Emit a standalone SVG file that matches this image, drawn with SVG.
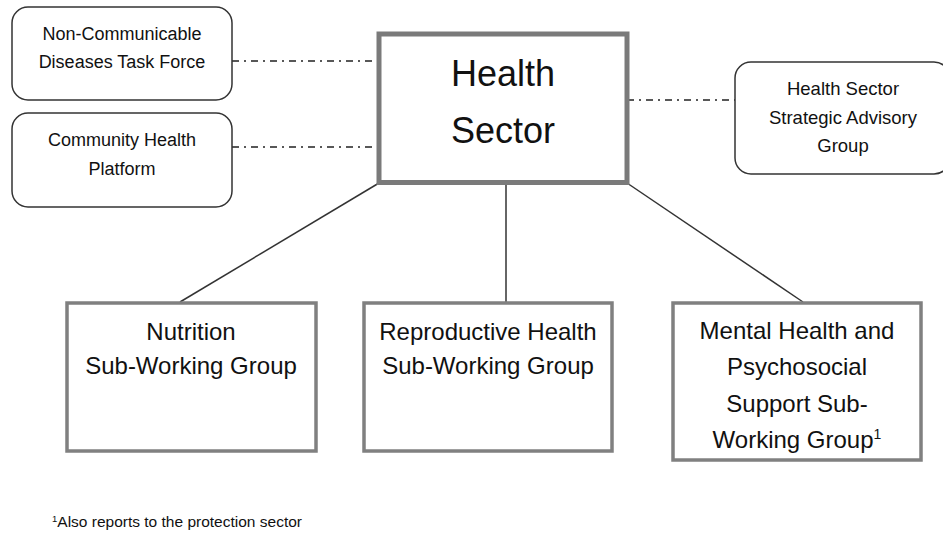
<svg xmlns="http://www.w3.org/2000/svg" width="943" height="533" viewBox="0 0 943 533">
<style>
text{font-family:"Liberation Sans",Arial,sans-serif;fill:#111;text-anchor:middle}
.rbox{fill:#fff;stroke:#333;stroke-width:1.5}
.sq{fill:#fff;stroke:#808080;stroke-width:3.5}
.main{fill:#fff;stroke:#7a7a7a;stroke-width:5}
.side{font-size:18px}
.sub{font-size:24px}
.dd{stroke:#222;stroke-width:1.6;fill:none;stroke-dasharray:7 5 2 5}
.ln{stroke:#333;stroke-width:1.5;fill:none}
</style>
<g id="connectors">
<line class="dd" x1="232" y1="61" x2="379" y2="61"/>
<line class="dd" x1="232" y1="147" x2="379" y2="147"/>
<line class="dd" x1="627" y1="100" x2="735" y2="100"/>
<line class="ln" x1="379" y1="183" x2="180" y2="302"/>
<line class="ln" x1="506" y1="183" x2="506" y2="302"/>
<line class="ln" x1="627" y1="183" x2="803" y2="302"/>
</g>
<g id="ncd">
<rect class="rbox" x="12" y="7" width="220" height="93" rx="16"/>
<text class="side" x="122" y="40">Non-Communicable</text>
<text class="side" x="122" y="68">Diseases Task Force</text>
</g>
<g id="chp">
<rect class="rbox" x="12" y="113" width="220" height="94" rx="16"/>
<text class="side" x="122" y="146">Community Health</text>
<text class="side" x="122" y="175">Platform</text>
</g>
<g id="health-sector">
<rect class="main" x="379" y="34" width="248" height="148.5"/>
<text x="503" y="86" style="font-size:36px">Health</text>
<text x="503" y="143" style="font-size:36px">Sector</text>
</g>
<g id="hssag">
<rect class="rbox" x="735" y="62" width="215" height="112" rx="16"/>
<text x="843" y="95" style="font-size:18.5px">Health Sector</text>
<text x="843" y="124" style="font-size:18.5px">Strategic Advisory</text>
<text x="843" y="152" style="font-size:18.5px">Group</text>
</g>
<g id="nutrition">
<rect class="sq" x="67" y="303" width="249" height="148"/>
<text class="sub" x="191" y="340">Nutrition</text>
<text class="sub" x="191" y="374">Sub-Working Group</text>
</g>
<g id="reproductive">
<rect class="sq" x="364" y="303" width="248" height="148"/>
<text class="sub" x="488" y="340">Reproductive Health</text>
<text class="sub" x="488" y="374">Sub-Working Group</text>
</g>
<g id="mental">
<rect class="sq" x="673" y="303" width="248" height="157"/>
<text class="sub" x="797" y="339">Mental Health and</text>
<text class="sub" x="797" y="375">Psychosocial</text>
<text class="sub" x="797" y="412">Support Sub-</text>
<text class="sub" x="797" y="448">Working Group<tspan dy="-9" style="font-size:14px">1</tspan></text>
</g>
<g id="footnote">
<text x="52" y="527" style="font-size:15.5px;text-anchor:start"><tspan dy="-5" style="font-size:9.5px">1</tspan><tspan dy="5">Also reports to the protection sector</tspan></text>
</g>
</svg>
